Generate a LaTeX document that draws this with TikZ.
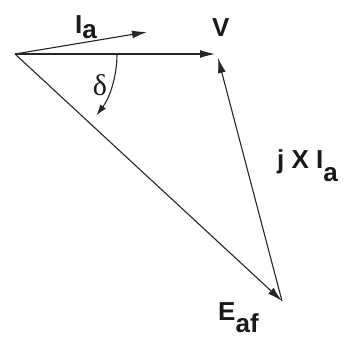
\documentclass[tikz,border=0pt]{standalone}
\usepackage{fontspec}
\setmainfont{Liberation Sans}
\newfontfamily\greekfont{Liberation Serif}
\usetikzlibrary{arrows.meta}
\begin{document}
\begin{tikzpicture}[x=1pt,y=-1pt,
  vec/.style={-{Latex[length=15pt,width=8pt]}, line width=1.1pt, draw=black!85},
  lbl/.style={font=\fontsize{26}{30}\selectfont\bfseries, inner sep=0pt, text=black!90}]
\useasboundingbox (0,0) rectangle (358,338);
\coordinate (O) at (15,54);
\coordinate (Itip) at (147,32);
\coordinate (Vtip) at (215,54);
\coordinate (Etip) at (282,301);
\coordinate (Vtop) at (218,58);
\coordinate (A0) at (117,54);
\draw[vec] (O) -- (Itip);
\draw[vec] (O) -- (Vtip);
\draw[vec] (O) -- (Etip);
\draw[vec] (Etip) -- (Vtop);
\draw[-{Latex[length=11pt,width=7pt]}, line width=1.1pt, draw=black!85] (A0) arc[start angle=0, end angle=37, radius=102];
\node[lbl, anchor=base west] (Ia) at (75,33) {I\raisebox{-5pt}{a}};
\node[lbl, anchor=base west] (V) at (212,36) {V};
\node[lbl, font=\fontsize{30}{34}\selectfont\greekfont, anchor=center] (delta) at (100,85) {δ};
\node[lbl, anchor=base west] (jXI) at (277,168) {j X I\raisebox{-13pt}{a}};
\node[lbl, anchor=base west] (E) at (218,320) {E\raisebox{-12pt}{af}};
\end{tikzpicture}
\end{document}
